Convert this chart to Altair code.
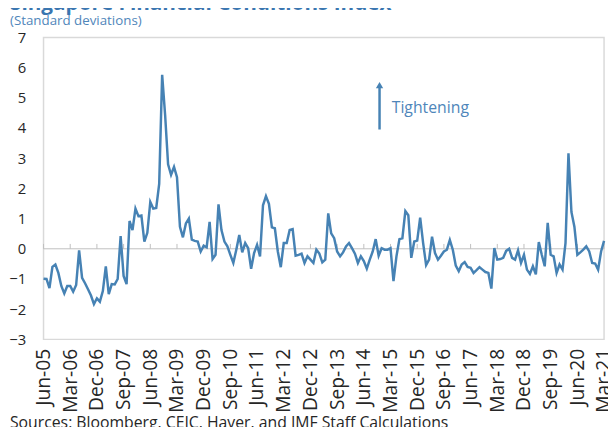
import json
import altair as alt
import pandas as pd

# Singapore Financial Conditions Index, monthly, Jun-2005 .. Mar-2021 (standard deviations)
fci_values = [
    -0.99, -1.0, -1.3, -0.6, -0.52, -0.8, -1.23, -1.48, -1.23, -1.23,
    -1.42, -1.2, -0.05, -0.96, -1.14, -1.34, -1.55, -1.83, -1.64, -1.75,
    -1.4, -0.58, -1.5, -1.17, -1.18, -1.0, 0.42, -0.9, -1.17, 0.92,
    0.62, 1.33, 1.08, 1.1, 0.24, 0.53, 1.55, 1.33, 1.35, 2.15,
    5.76, 4.43, 2.8, 2.45, 2.71, 2.37, 0.73, 0.38, 0.84, 1.0,
    0.3, 0.26, 0.24, -0.09, 0.1, 0.05, 0.89, -0.34, -0.2, 1.47,
    0.62, 0.24, 0.08, -0.2, -0.47, -0.03, 0.46, -0.12, 0.19, 0.02,
    -0.66, -0.14, 0.13, -0.25, 1.44, 1.74, 1.49, 0.71, 0.68, -0.09,
    -0.61, 0.19, 0.19, 0.62, 0.65, -0.23, -0.2, -0.16, -0.47, -0.25,
    -0.36, -0.47, -0.03, -0.16, -0.45, -0.36, 1.17, 0.51, 0.35, -0.09,
    -0.25, -0.12, 0.08, 0.19, 0.02, -0.16, -0.47, -0.25, -0.41, -0.66,
    -0.36, -0.09, 0.32, -0.23, 0.02, -0.03, -0.03, 0.02, -1.07, -0.25,
    0.32, 0.35, 1.25, 1.11, -0.3, 0.24, 0.27, 1.03, 0.19, -0.54,
    -0.36, 0.4, -0.14, -0.36, -0.23, -0.09, -0.03, 0.29, -0.03, -0.56,
    -0.74, -0.52, -0.44, -0.6, -0.63, -0.8, -0.71, -0.61, -0.69, -0.77,
    -0.8, -1.32, 0.02, -0.36, -0.34, -0.3, -0.07, 0.0, -0.3, -0.36,
    -0.05, -0.47, -0.2, -0.69, -0.83, -0.58, -0.85, 0.22, -0.2, -0.58,
    0.86, -0.2, -0.25, -0.8, -0.52, -0.69, 0.19, 3.16, 1.22, 0.73,
    -0.2, -0.12, -0.03, 0.08, -0.09, -0.47, -0.49, -0.69, -0.09, 0.26,
]

month_labels = pd.date_range("2005-06-01", periods=len(fci_values), freq="MS").strftime("%b-%y").tolist()

tick_labels = ["Jun-05", "Mar-06", "Dec-06", "Sep-07", "Jun-08", "Mar-09", "Dec-09",
               "Sep-10", "Jun-11", "Mar-12", "Dec-12", "Sep-13", "Jun-14", "Mar-15",
               "Dec-15", "Sep-16", "Jun-17", "Mar-18", "Dec-18", "Sep-19", "Jun-20", "Mar-21"]
y_ticks = [-3, -2, -1, 0, 1, 2, 3, 4, 5, 6, 7]

title_text = "Singapore Financial Conditions Index"
subtitle_text = "(Standard deviations)"
source_text = "Sources: Bloomberg, CEIC, Haver, and IMF Staff Calculations"
annotation_text = "Tightening"

FONT = "Open Sans"
BLUE = "#4682b4"
TEXT_BLUE = "#4f86ba"

df = pd.DataFrame({"idx": list(range(len(fci_values))), "month": month_labels, "fci": fci_values})
tick_pos = [month_labels.index(l) for l in tick_labels]
ticks_df = pd.DataFrame({"idx": tick_pos, "label": tick_labels,
                         "y0": [0.0] * len(tick_pos), "y1": [0.16] * len(tick_pos)})

x_scale = alt.Scale(domain=[0, len(fci_values) - 1], nice=False, zero=False)
y_scale = alt.Scale(domain=[-3, 7], nice=False)

label_expr = json.dumps(month_labels) + "[datum.value]"

x_axis = alt.Axis(values=tick_pos, labelExpr=label_expr, labelAngle=270,
                  labelAlign="right", labelBaseline="middle", labelPadding=9,
                  labelFontSize=19.5, labelFont=FONT, labelColor="#262626",
                  labelOverlap=False, labelBound=False, labelFlush=False,
                  ticks=False, domain=False, grid=False, title=None)
y_axis = alt.Axis(values=y_ticks, grid=False, domain=False, ticks=False,
                  labelOverlap=False, labelBound=False, labelFlush=False,
                  labelPadding=18, labelFontSize=15, labelFont=FONT,
                  labelColor="#262626", title=None)


def X(field):
    return alt.X(field, type="quantitative", scale=x_scale, axis=x_axis)


def Y(field):
    return alt.Y(field, type="quantitative", scale=y_scale, axis=y_axis)


line = alt.Chart(df).mark_line(color=BLUE, strokeWidth=2.5).encode(x=X("idx"), y=Y("fci"))

zero_line = alt.Chart(pd.DataFrame({"y": [0.0]})).mark_rule(color="#bfbfbf", strokeWidth=1).encode(
    y=Y("y")
)

tick_marks = alt.Chart(ticks_df).mark_rule(color="#bfbfbf", strokeWidth=1).encode(
    x=X("idx"), y=Y("y0"), y2="y1:Q"
)

ann_df = pd.DataFrame({"x": [113.3], "y0": [3.95], "y1": [5.42], "tx": [117.4], "ty": [4.65],
                       "label": [annotation_text]})

arrow_shaft = alt.Chart(ann_df).mark_rule(color=BLUE, strokeWidth=2.5).encode(
    x=X("x"), y=Y("y0"), y2="y1:Q"
)
arrow_head = alt.Chart(ann_df).mark_point(shape="triangle-up", filled=True, color=BLUE,
                                          size=55, opacity=1).encode(x=X("x"), y=Y("y1"))
ann_text = alt.Chart(ann_df).mark_text(align="left", baseline="middle", font=FONT, fontSize=16,
                                       color=TEXT_BLUE).encode(x=X("tx"), y=Y("ty"), text="label:N")

text_df = pd.DataFrame({"t": [title_text, subtitle_text, source_text]})
title_mark = alt.Chart(text_df).transform_filter(alt.datum.t == title_text).mark_text(
    align="left", baseline="alphabetic", font=FONT, fontSize=21, fontWeight="bold", color="#3a76b0"
).encode(x=alt.value(-34), y=alt.value(-28), text="t:N")
subtitle_mark = alt.Chart(text_df).transform_filter(alt.datum.t == subtitle_text).mark_text(
    align="left", baseline="middle", font=FONT, fontSize=13.5, color=TEXT_BLUE
).encode(x=alt.value(-34), y=alt.value(-17), text="t:N")
source_mark = alt.Chart(text_df).transform_filter(alt.datum.t == source_text).mark_text(
    align="left", baseline="middle", font=FONT, fontSize=16, color="#262626"
).encode(x=alt.value(-34), y=alt.value(391), text="t:N")

chart = alt.layer(
    zero_line, tick_marks, line, arrow_shaft, arrow_head, ann_text,
    title_mark, subtitle_mark, source_mark
).properties(
    width=568, height=306,
    autosize=alt.AutoSizeParams(type="none"),
    padding={"left": 36, "top": 27, "right": 4, "bottom": 86},
).configure_view(stroke="#d9d9d9", strokeWidth=1.5
).configure_axis(labelOverlap=False, labelBound=False, labelFlush=False)

chart.save("out.html", embed_options={"renderer": "svg", "actions": False})
